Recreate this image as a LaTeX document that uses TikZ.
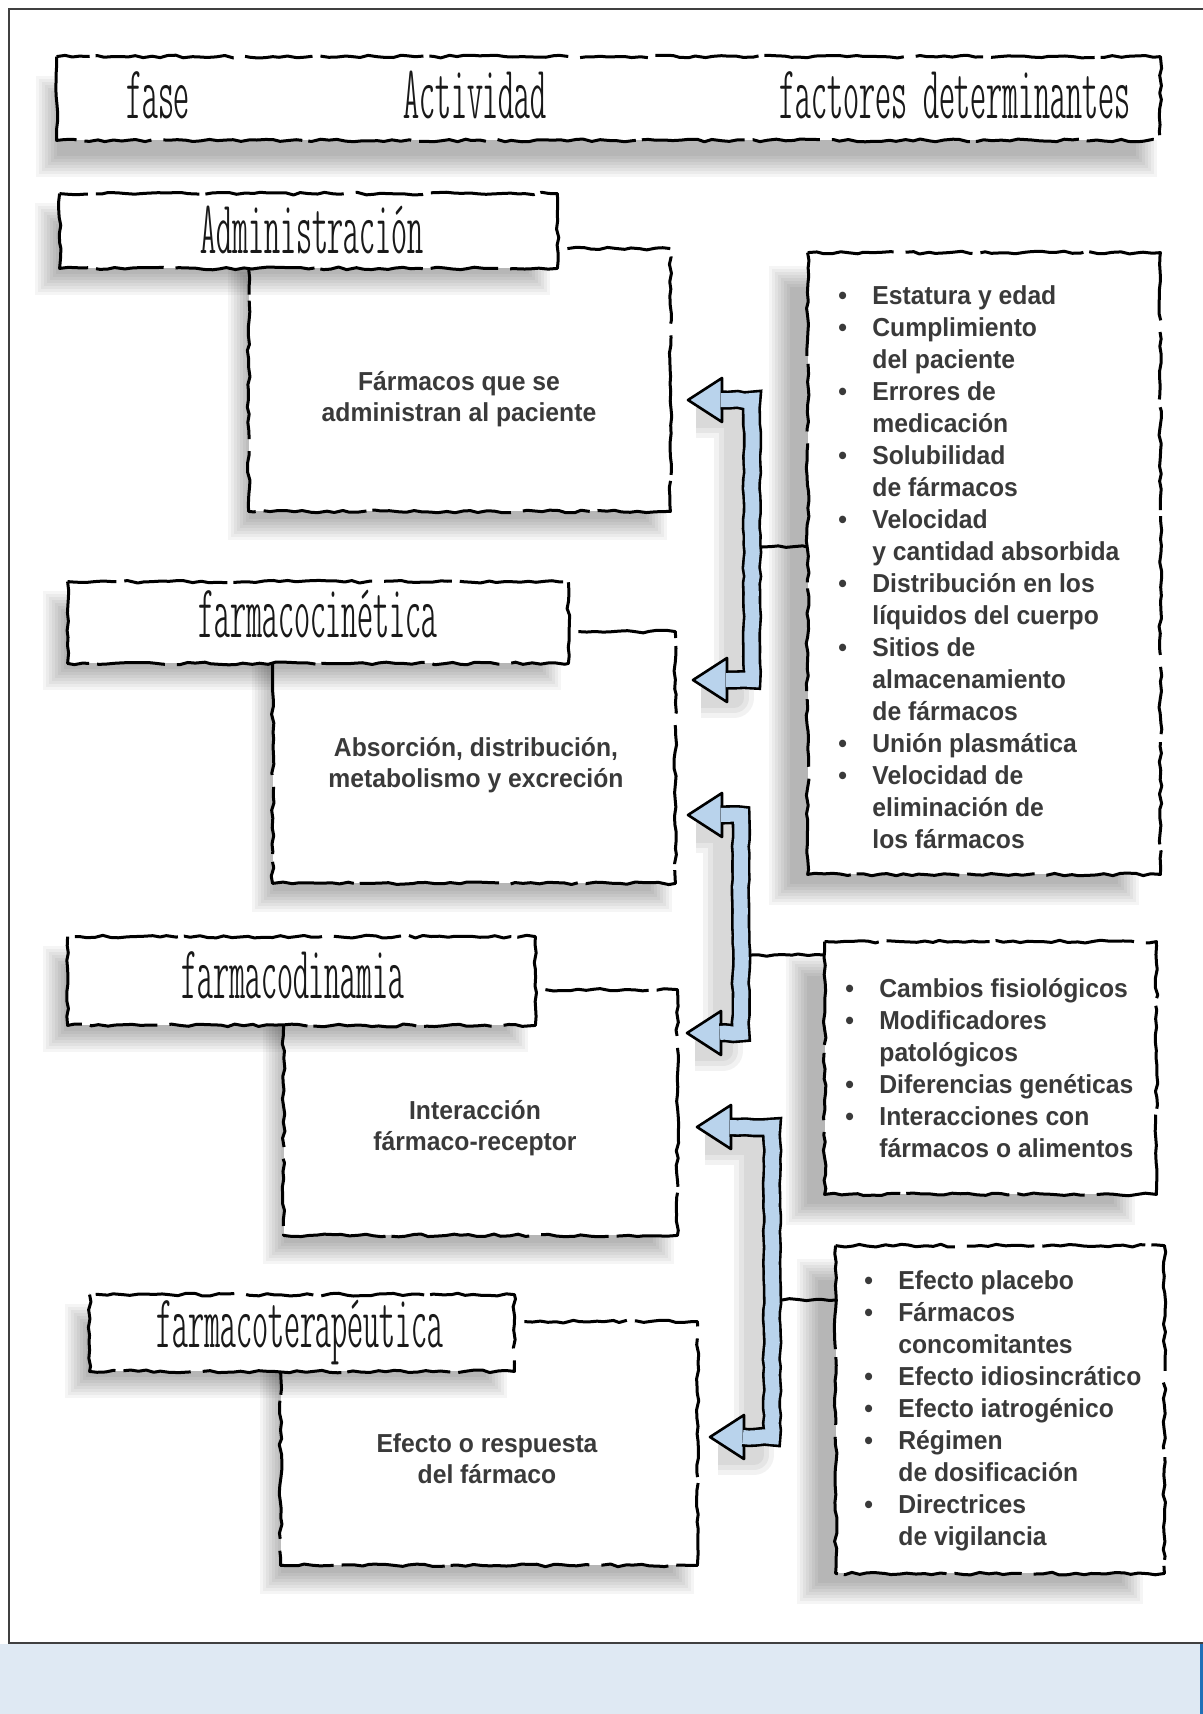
\documentclass[tikz,border=0pt]{standalone}
\usepackage{fontspec}
\setmainfont{Liberation Sans}[BoldFeatures={FakeStretch=0.95}]
\newfontfamily\handfont[FakeStretch=0.6]{lmmonoltcond10-regular.otf}
\usetikzlibrary{decorations.pathmorphing,positioning,calc}
\definecolor{arrowblue}{HTML}{B9D3EC}
\definecolor{bandblue}{HTML}{DFE9F3}
\definecolor{edgeblue}{HTML}{1F70B8}
\definecolor{inktext}{HTML}{3A3A3A}
\newcommand{\bul}{\makebox[17pt][l]{\textbullet}}
\newcommand{\ind}{\hspace*{17pt}}
% soft grey shadow under a box: node, x offset, y offset
\newcommand{\softshadow}[3]{%
  \foreach \k in {-3,...,4}
    \fill[black, opacity=0.04]
      ([shift={({#2+\k*1.5pt},{#3-\k*1.5pt})}]#1.north west) rectangle
      ([shift={({#2-\k*1.5pt},{#3+\k*1.5pt})}]#1.south east);}

\begin{document}
\begin{tikzpicture}[x=0.5pt, y=-0.5pt,
    every node/.style={align=center},
    hand/.style={draw=black, line width=1.5pt, line join=round, decorate,
                 decoration={random steps, segment length=4pt, amplitude=0.7pt},
                 dash pattern=on 52pt off 4pt on 34pt off 6pt on 70pt off 3pt},
    boxarea/.style={inner sep=0pt},
    title/.style={font=\handfont\fontsize{38pt}{38pt}\selectfont,
                  inner sep=0pt, anchor=base, text=black!90},
    acttext/.style={font=\bfseries\fontsize{13pt}{15.5pt}\selectfont, text=inktext,
                    inner sep=0pt},
    factlist/.style={font=\bfseries\fontsize{13pt}{16pt}\selectfont, text=inktext,
                     align=left, anchor=west, inner sep=0pt},
    shaft/.style={draw=black, line width=1.3pt, double=arrowblue,
                  double distance=7pt, decorate,
                  decoration={random steps, segment length=4pt, amplitude=0.4pt}},
    headtip/.style={draw=black, fill=arrowblue, line width=1.3pt, line join=round},
    shaftshadow/.style={draw=black, opacity=0.05, line join=round}
  ]
  \pgfmathsetseed{11}
  \useasboundingbox (0,0) rectangle (1203,1714);
  \fill[white] (0,0) rectangle (1203,1714);
  \fill[bandblue] (0,1644) rectangle (1203,1714);
  \draw[edgeblue, line width=1.5pt] (1201,1644) -- (1201,1714);
  \draw[black!75, line width=1pt] (1203,1643) -- (9,1643) -- (9,9) -- (1203,9);

  % boxes
  \node[boxarea, minimum width=551.5pt, minimum height=41.5pt] (hdr) at (608.5,98.5) {};
  \node[boxarea, minimum width=248.5pt, minimum height=37pt] (ph1) at (308.5,231) {};
  \node[boxarea, minimum width=250pt, minimum height=40.5pt] (ph2) at (318,622.5) {};
  \node[boxarea, minimum width=233.5pt, minimum height=44pt] (ph3) at (301.5,981) {};
  \node[boxarea, minimum width=212pt, minimum height=38pt] (ph4) at (302,1333) {};
  \node[boxarea, minimum width=210.5pt, minimum height=131pt] (act1) at (459.5,380) {};
  \node[boxarea, minimum width=201pt, minimum height=125.5pt] (act2) at (474,757.5) {};
  \node[boxarea, minimum width=196.5pt, minimum height=122.5pt] (act3) at (480.5,1112.5) {};
  \node[boxarea, minimum width=208pt, minimum height=121.5pt] (act4) at (489,1443.5) {};
  \node[boxarea, minimum width=176pt, minimum height=310.5pt] (f1) at (984,563.5) {};
  \node[boxarea, minimum width=165.5pt, minimum height=126pt] (f2) at (990.5,1068) {};
  \node[boxarea, minimum width=164pt, minimum height=163.5pt] (f3) at (1000,1409.5) {};

  % shadows and paper
  \foreach \b in {act1,act2,act3,act4} {\softshadow{\b}{-6pt}{-10pt}}
  \foreach \b in {act1,act2,act3,act4}
    \fill[white] (\b.north west) rectangle (\b.south east);
  \softshadow{hdr}{-6pt}{-14pt}
  \foreach \b in {ph1,ph2,ph3,ph4} {\softshadow{\b}{-8pt}{-9pt}}
  \foreach \b in {f1,f2,f3} {\softshadow{\b}{-15pt}{-11pt}}
  \foreach \b in {hdr,ph1,ph2,ph3,ph4,f1,f2,f3}
    \fill[white] (\b.north west) rectangle (\b.south east);

  % outlines
  \foreach \b in {hdr,ph1,ph2,ph3,ph4,f1,f2,f3}
    \draw[hand] (\b.north west) rectangle (\b.south east);
  \draw[hand] ([xshift=5pt]ph1.east |- act1.north) -- (act1.north east)
    -- (act1.south east) -- (act1.south west) -- (act1.west |- ph1.south);
  \draw[hand] ([xshift=5pt]ph2.east |- act2.north) -- (act2.north east)
    -- (act2.south east) -- (act2.south west) -- (act2.west |- ph2.south);
  \draw[hand] ([xshift=5pt]ph3.east |- act3.north) -- (act3.north east)
    -- (act3.south east) -- (act3.south west) -- (act3.west |- ph3.south);
  \draw[hand] ([xshift=5pt]ph4.east |- act4.north) -- (act4.north east)
    -- (act4.south east) -- (act4.south west) -- (act4.west |- ph4.south);

  % titles
  \node[title] (tfase) at (158,118) {fase};
  \node[title] (tact) at (475,118) {Actividad};
  \node[title] (tfact) at (955,118) {factores determinantes};
  \node[title] (tph1) at (312,253) {Administración};
  \node[title] (tph2) at (318,637) {farmacocinética};
  \node[title] (tph3) at (293,998) {farmacodinamia};
  \node[title] (tph4) at (300,1347) {farmacoterapéutica};

  % activities
  \node[acttext] (act1txt) at (459,399) {Fármacos que se\\administran al paciente};
  \node[acttext] (act2txt) at (476,765) {Absorción, distribución,\\metabolismo y excreción};
  \node[acttext] (act3txt) at (475,1128) {Interacción\\fármaco-receptor};
  \node[acttext] (act4txt) at (487,1459) {Efecto o respuesta\\del fármaco};

  % factors
  \node[factlist] (l1) at (838,567) {%
    \bul Estatura y edad\\
    \bul Cumplimiento\\
    \ind del paciente\\
    \bul Errores de\\
    \ind medicación\\
    \bul Solubilidad\\
    \ind de fármacos\\
    \bul Velocidad\\
    \ind y cantidad absorbida\\
    \bul Distribución en los\\
    \ind líquidos del cuerpo\\
    \bul Sitios de\\
    \ind almacenamiento\\
    \ind de fármacos\\
    \bul Unión plasmática\\
    \bul Velocidad de\\
    \ind eliminación de\\
    \ind los fármacos};
  \node[factlist] (l2) at (845,1068) {%
    \bul Cambios fisiológicos\\
    \bul Modificadores\\
    \ind patológicos\\
    \bul Diferencias genéticas\\
    \bul Interacciones con\\
    \ind fármacos o alimentos};
  \node[factlist] (l3) at (864,1411) {%
    \bul Efecto placebo\\
    \bul Fármacos\\
    \ind concomitantes\\
    \bul Efecto idiosincrático\\
    \bul Efecto iatrogénico\\
    \bul Régimen\\
    \ind de dosificación\\
    \bul Directrices\\
    \ind de vigilancia};

  % bracket arrows
  \coordinate (a1t) at (688,400);  \coordinate (a1b) at (693,680);
  \coordinate (s1) at (752,547);
  \coordinate (a2t) at (688,815);  \coordinate (a2b) at (687,1033);
  \coordinate (s2) at (741,955);
  \coordinate (a3t) at (697,1127); \coordinate (a3b) at (710,1437);
  \coordinate (s3) at (772,1300);
  \foreach \a in {1,2,3} {
    \foreach \w in {10,15,20}
      \draw[shaftshadow, line width=\w pt]
        ([shift={(4pt,-9pt)}]a\a t) -- ([shift={(-9pt,-9pt)}]a\a t -| s\a)
        -- ([shift={(-9pt,-9pt)}]a\a b -| s\a) -- ([shift={(4pt,-9pt)}]a\a b);
  }
  \foreach \a in {1,2,3} {
    \draw[headtip] (a\a t) -- ++(17pt,-11pt) -- ++(0,22pt) -- cycle;
    \draw[headtip] (a\a b) -- ++(17pt,-11pt) -- ++(0,22pt) -- cycle;
    \draw[shaft] ([xshift=16.4pt]a\a t) -- (a\a t -| s\a) -- (a\a b -| s\a)
      -- ([xshift=16.4pt]a\a b);
  }
  \draw[hand] ([xshift=5pt]s1) -- (s1 -| f1.west);
  \draw[hand] ([xshift=5pt]s2) -- (s2 -| f2.west);
  \draw[hand] ([xshift=5pt]s3) -- (s3 -| f3.west);
\end{tikzpicture}
\end{document}
